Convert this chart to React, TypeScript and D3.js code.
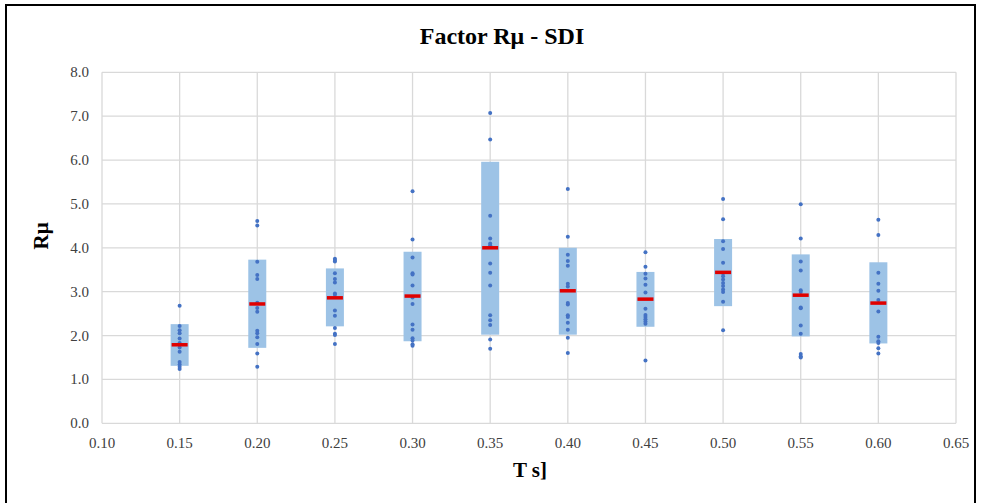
import React from 'react';
import * as d3 from 'd3';

// periods T [s]
const periods = [0.15, 0.2, 0.25, 0.3, 0.35, 0.4, 0.45, 0.5, 0.55, 0.6];
// box (range) per period
const boxLow = [1.31, 1.72, 2.21, 1.87, 2.02, 2.02, 2.2, 2.67, 1.98, 1.82];
const boxHigh = [2.26, 3.73, 3.53, 3.91, 5.96, 4.0, 3.45, 4.2, 3.85, 3.67];
const medians = [1.79, 2.72, 2.86, 2.9, 4.0, 3.02, 2.83, 3.44, 2.92, 2.74];
// individual R mu values
const samples = [
  [2.68, 2.22, 2.12, 2.05, 1.93, 1.83, 1.73, 1.63, 1.4, 1.34, 1.29, 1.24],
  [4.61, 4.51, 3.68, 3.38, 3.29, 2.75, 2.63, 2.54, 2.11, 2.05, 1.96, 1.81, 1.59, 1.29],
  [3.75, 3.72, 3.69, 3.42, 3.29, 3.21, 2.96, 2.93, 2.57, 2.45, 2.17, 2.04, 2.01, 1.81],
  [5.29, 4.19, 3.78, 3.42, 3.39, 3.14, 2.87, 2.72, 2.25, 2.13, 1.94, 1.89, 1.8, 1.77],
  [7.07, 6.47, 4.73, 4.21, 4.1, 4.06, 3.64, 3.43, 3.14, 2.46, 2.35, 2.24, 1.91, 1.7],
  [5.34, 4.25, 3.84, 3.7, 3.59, 3.18, 3.12, 2.74, 2.71, 2.46, 2.42, 2.29, 2.13, 1.95, 1.6],
  [3.9, 3.57, 3.41, 3.3, 3.16, 2.98, 2.61, 2.47, 2.42, 2.37, 2.32, 2.27, 1.43],
  [5.11, 4.65, 4.15, 3.97, 3.66, 3.42, 3.35, 3.28, 3.2, 3.13, 3.05, 2.99, 2.77, 2.12],
  [4.99, 4.21, 3.69, 3.48, 3.03, 2.99, 2.64, 2.62, 2.23, 2.04, 1.58, 1.53, 1.5],
  [4.64, 4.29, 3.43, 3.18, 3.02, 2.81, 2.55, 1.97, 1.87, 1.83, 1.71, 1.59],
];
const xTicks = [0.1, 0.15, 0.2, 0.25, 0.3, 0.35, 0.4, 0.45, 0.5, 0.55, 0.6, 0.65];
const yTicks = [0, 1, 2, 3, 4, 5, 6, 7, 8];

const W = 981;
const H = 503;
const font = '"Liberation Serif", "Times New Roman", serif';

export default function App() {
  const x = d3.scaleLinear().domain([0.1, 0.65]).range([102, 956]);
  const y = d3.scaleLinear().domain([0, 8]).range([423.3, 72.3]);
  const boxW = 18;
  const medW = 16;

  return (
    <svg width={W} height={H} style={{ position: 'absolute', left: 0, top: 0, background: '#fff' }}>
      <rect x={6} y={5} width={969} height={520} fill="#fff" stroke="#000" strokeWidth={2} />

      <text x={502} y={44} textAnchor="middle" fontFamily={font} fontWeight="bold" fontSize={24}>
        Factor Rμ - SDI
      </text>

      {/* grid */}
      {yTicks.map(t => (
        <line key={'gy' + t} x1={x(0.1)} x2={x(0.65)} y1={y(t)} y2={y(t)} stroke="#d9d9d9" strokeWidth={1.3} />
      ))}
      {xTicks.map(t => (
        <line key={'gx' + t} x1={x(t)} x2={x(t)} y1={y(0)} y2={y(8)} stroke="#d9d9d9" strokeWidth={1.3} />
      ))}

      {/* tick labels */}
      {yTicks.map(t => (
        <text key={'ty' + t} x={89} y={y(t) + 5} textAnchor="end" fontFamily={font} fontSize={15} fill="#404040">
          {t.toFixed(1)}
        </text>
      ))}
      {xTicks.map(t => (
        <text key={'tx' + t} x={x(t)} y={448} textAnchor="middle" fontFamily={font} fontSize={15} fill="#404040">
          {t.toFixed(2)}
        </text>
      ))}

      {/* boxes */}
      {periods.map((p, i) => (
        <rect key={'b' + p} x={x(p) - boxW / 2} y={y(boxHigh[i])} width={boxW}
          height={y(boxLow[i]) - y(boxHigh[i])} fill="#9dc3e6" />
      ))}

      {/* points */}
      {periods.map((p, i) =>
        samples[i].map((v, j) => (
          <circle key={'p' + p + '-' + j} cx={x(p)} cy={y(v)} r={2} fill="#4472c4" />
        ))
      )}

      {/* medians */}
      {periods.map((p, i) => (
        <rect key={'m' + p} x={x(p) - medW / 2} y={y(medians[i]) - 1.75} width={medW} height={3.5} fill="#e00000" />
      ))}

      <text transform="translate(48,236) rotate(-90)" textAnchor="middle" fontFamily={font}
        fontWeight="bold" fontSize={21}>
        Rμ
      </text>
      <text x={530} y={477} textAnchor="middle" fontFamily={font} fontWeight="bold" fontSize={21}>
        T s]
      </text>
    </svg>
  );
}
